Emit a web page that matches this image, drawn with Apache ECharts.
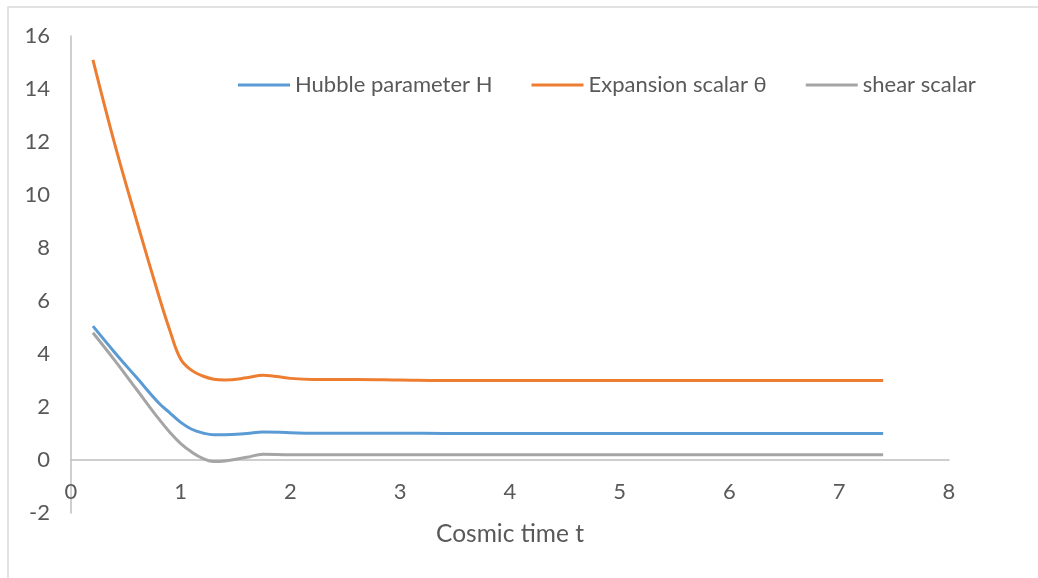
<!DOCTYPE html>
<html>
<head>
<meta charset="utf-8">
<script src="https://cdn.jsdelivr.net/npm/echarts@6/dist/echarts.min.js"></script>
<style>
html,body{margin:0;padding:0;background:#fff;}
#c{width:1038px;height:578px;}
</style>
</head>
<body>
<div id="c"></div>
<script>
var times     = [0.2, 0.4, 0.6, 0.8, 0.9, 1.0, 1.1, 1.2, 1.3, 1.4, 1.6, 1.75, 2.0, 2.2, 2.6, 3.0, 3.4, 4.0, 4.6, 5.2, 5.8, 6.4, 7.0, 7.4];
var hubble    = [5.05, 4.05, 3.1, 2.15, 1.78, 1.42, 1.16, 1.02, 0.95, 0.95, 1.0, 1.06, 1.03, 1.01, 1.01, 1.01, 1.0, 1.0, 1.0, 1.0, 1.0, 1.0, 1.0, 1.0];
var expansion = [15.1, 11.9, 9.0, 6.2, 4.9, 3.8, 3.38, 3.17, 3.05, 3.02, 3.1, 3.2, 3.08, 3.04, 3.04, 3.02, 3.0, 3.0, 3.0, 3.0, 3.0, 3.0, 3.0, 3.0];
var shear     = [4.8, 3.75, 2.65, 1.55, 1.05, 0.62, 0.3, 0.06, -0.06, -0.04, 0.1, 0.22, 0.2, 0.2, 0.2, 0.2, 0.2, 0.2, 0.2, 0.2, 0.2, 0.2, 0.2, 0.2];
var seriesNames = ['Hubble parameter H', 'Expansion scalar θ', 'shear scalar'];
var xAxisTitle = 'Cosmic time t';

function pairs(ys){ return times.map(function(t,i){ return [t, ys[i]]; }); }

var font = 'Lato, "Open Sans", sans-serif';
var chart = echarts.init(document.getElementById('c'), null, {renderer:'canvas'});
chart.setOption({
  animation:false,
  color:['#5B9BD5','#ED7D31','#A5A5A5'],
  graphic:[{type:'rect', shape:{x:8, y:7, width:1100, height:700}, style:{fill:'none', stroke:'#d9d9d9', lineWidth:1.5}, silent:true}],
  grid:{left:71, right:89, top:36, bottom:65, containLabel:false, outerBoundsMode:'none'},
  legend:{
    left:238, top:73, padding:0, itemWidth:52, itemHeight:3, itemGap:39, icon:'rect',
    textStyle:{fontFamily:font, fontSize:22, color:'#595959', lineHeight:24},
    data:seriesNames
  },
  xAxis:{
    type:'value', min:0, max:8, interval:1,
    axisLine:{show:true, onZero:true, lineStyle:{color:'#bfbfbf', width:1.5}},
    axisTick:{show:false}, splitLine:{show:false},
    axisLabel:{fontFamily:font, fontSize:22, color:'#595959', margin:-32},
    name:xAxisTitle, nameLocation:'middle', nameGap:9,
    nameTextStyle:{fontFamily:font, fontSize:24.5, color:'#595959'}
  },
  yAxis:{
    type:'value', min:-2, max:16, interval:2,
    axisLine:{show:true, lineStyle:{color:'#bfbfbf', width:1.5}},
    axisTick:{show:false}, splitLine:{show:false},
    axisLabel:{fontFamily:font, fontSize:22, color:'#595959', margin:21}
  },
  series:[
    {name:seriesNames[0], type:'line', data:pairs(hubble), smooth:0.4, showSymbol:false, lineStyle:{width:3}},
    {name:seriesNames[1], type:'line', data:pairs(expansion), smooth:0.4, showSymbol:false, lineStyle:{width:3}},
    {name:seriesNames[2], type:'line', data:pairs(shear), smooth:0.4, showSymbol:false, lineStyle:{width:3}}
  ]
});
</script>
</body>
</html>
